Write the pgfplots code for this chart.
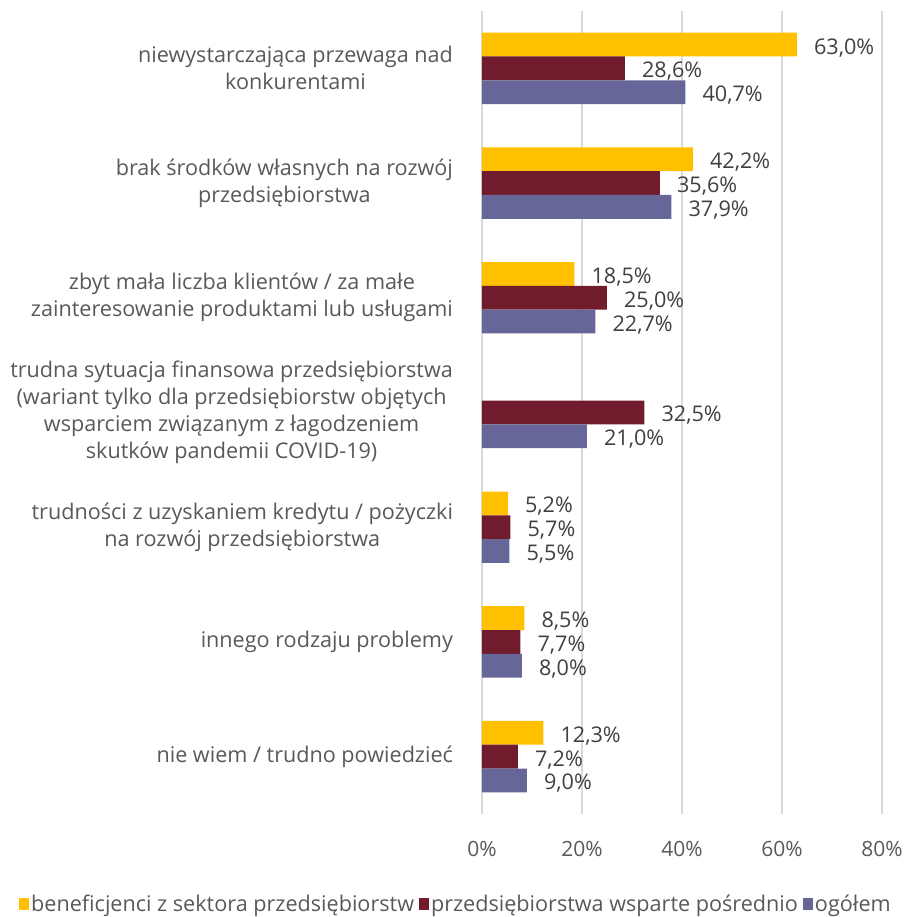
\documentclass[border=0pt]{standalone}
\usepackage{pgfplots}
\pgfplotsset{compat=1.18}
\usepackage{fontspec}
\setmainfont{Open Sans}
\definecolor{cYellow}{HTML}{FFC000}
\definecolor{cRed}{HTML}{701C2C}
\definecolor{cBlue}{HTML}{666699}
\definecolor{cText}{HTML}{595959}
\definecolor{cLabel}{HTML}{404040}
\definecolor{cGrid}{HTML}{D9D9D9}
\begin{document}
\begin{tikzpicture}
\begin{axis}[
    at={(0,0)}, anchor=south west,
    scale only axis,
    width=200pt, height=401.5pt,
    xbar,
    xmin=0, xmax=80,
    ymin=-0.5, ymax=6.5,
    axis line style={draw=none},
    major tick length=0pt,
    xmajorgrids,
    grid style={cGrid, line width=1pt},
    xtick={0,20,40,60,80},
    xticklabels={0\%,20\%,40\%,60\%,80\%},
    xticklabel style={font=\fontsize{10.5}{12}\selectfont, text=cText, yshift=-10pt},
    ytick={0,...,6},
    yticklabels={
        nie wiem / trudno powiedzieć,
        innego rodzaju problemy,
        trudności z uzyskaniem kredytu / pożyczki\\na rozwój przedsiębiorstwa,
        trudna sytuacja finansowa przedsiębiorstwa\\(wariant tylko dla przedsiębiorstw objętych\\wsparciem związanym z łagodzeniem\\skutków pandemii COVID-19),
        zbyt mała liczba klientów / za małe\\zainteresowanie produktami lub usługami,
        brak środków własnych na rozwój\\przedsiębiorstwa,
        niewystarczająca przewaga nad\\konkurentami},
    yticklabel style={font=\fontsize{10.8}{13.5}\selectfont, text=cText, align=center, xshift=-11pt},
    /pgf/number format/assume math mode=true,
    bar width=0.2075,
    point meta=x,
    nodes near coords={\pgfmathprintnumber[fixed, fixed zerofill, precision=1, use comma]{\pgfplotspointmeta}\%},
    every node near coord/.append style={font=\fontsize{10.8}{12}\selectfont, text=cLabel, anchor=west, xshift=5pt, yshift=-1.5pt},
    legend style={at={(-0.065,-0.113)}, anchor=center, draw=none, fill=none,
        font=\fontsize{10.8}{12}\selectfont, text=cText, legend columns=-1,
        /tikz/every even column/.append style={column sep=1.5pt},
        inner sep=0pt, nodes={inner sep=1pt}},
    legend image code/.code={\fill[#1] (0pt,-2.5pt) rectangle (5pt,3.5pt);},
]
\addplot[bar shift=0.2075, fill=cYellow, draw=none] coordinates {
    (63.0,6) (42.2,5) (18.5,4) (5.2,2) (8.5,1) (12.3,0)
};
\addplot[bar shift=0, fill=cRed, draw=none] coordinates {
    (28.6,6) (35.6,5) (25.0,4) (32.5,3) (5.7,2) (7.7,1) (7.2,0)
};
\addplot[bar shift=-0.2075, fill=cBlue, draw=none] coordinates {
    (40.7,6) (37.9,5) (22.7,4) (21.0,3) (5.5,2) (8.0,1) (9.0,0)
};
\legend{beneficjenci z sektora przedsiębiorstw, przedsiębiorstwa wsparte pośrednio, ogółem}
\end{axis}
\pgfresetboundingbox
\path[use as bounding box] (-241pt,-51.5pt) rectangle (215pt,407pt);
\end{tikzpicture}
\end{document}
